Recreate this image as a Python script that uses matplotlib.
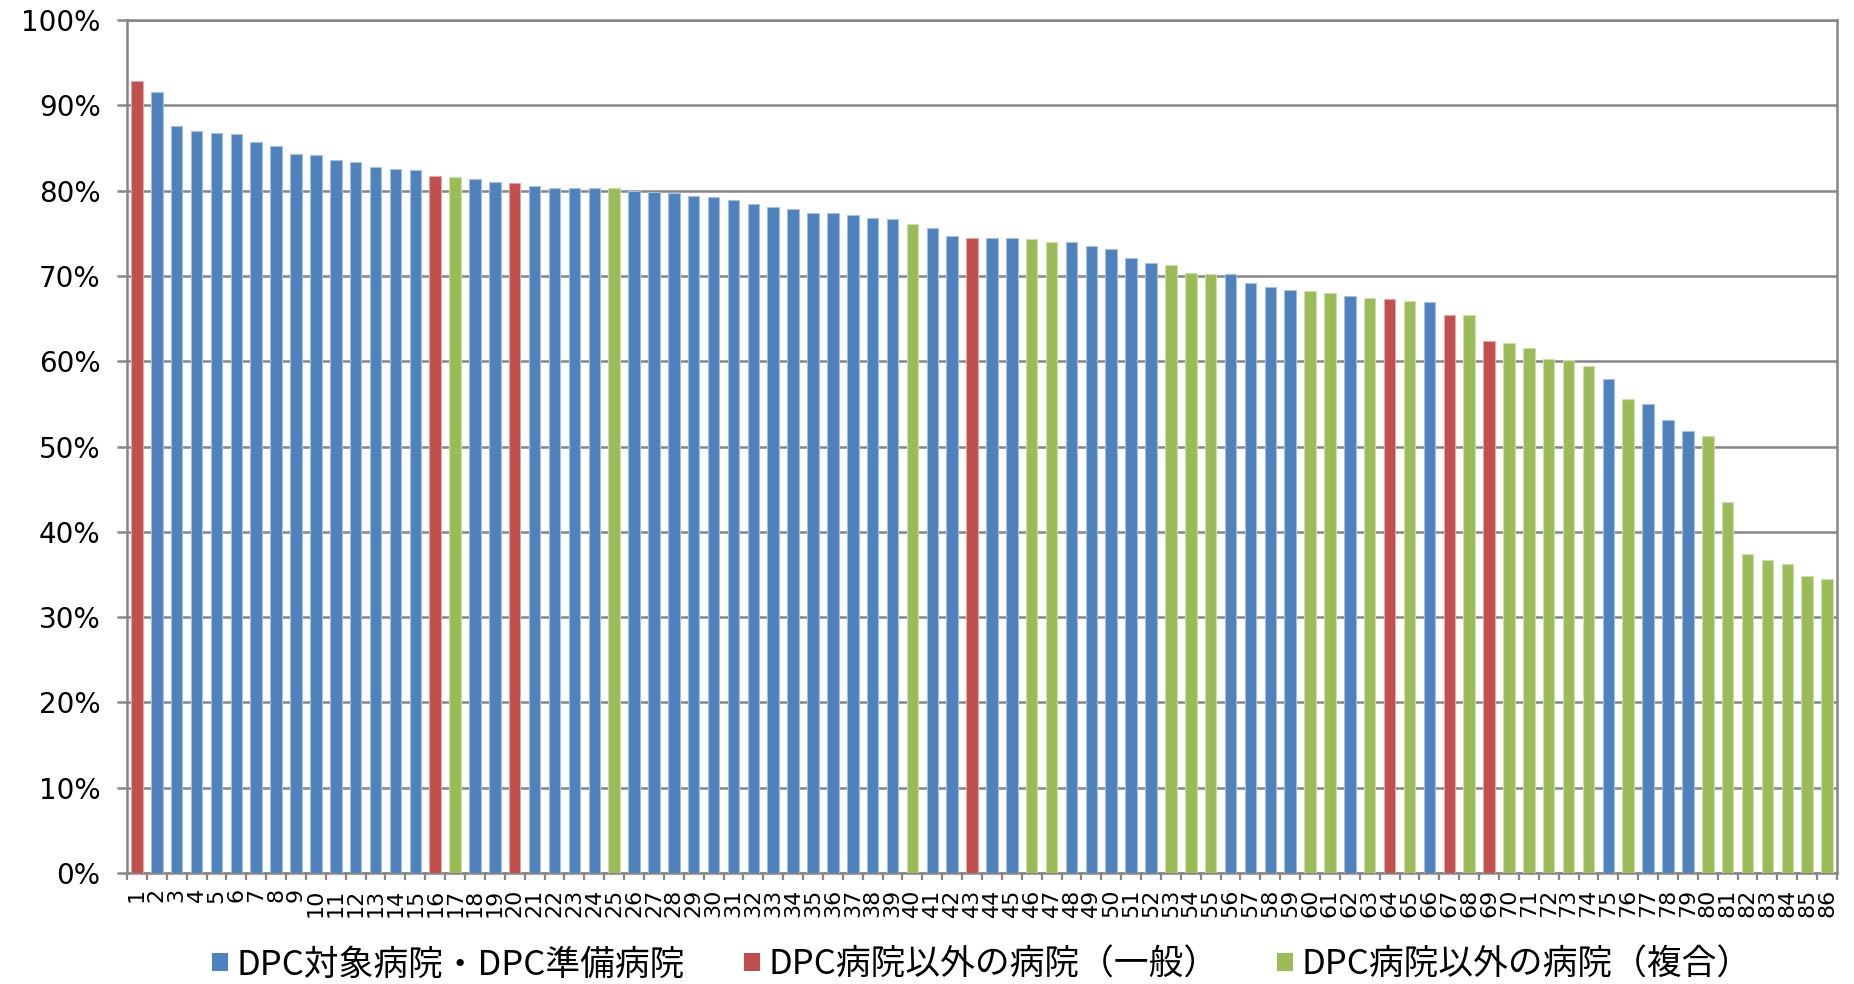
import matplotlib
matplotlib.use("Agg")
import matplotlib.pyplot as plt
from matplotlib.patches import Patch
from matplotlib.ticker import FuncFormatter, FixedLocator

# ---- data ----
hospital_ids = list(range(1, 87))
rates = [
    92.9, 91.55, 87.6, 86.95, 86.75, 86.65, 85.7, 85.25, 84.3, 84.2,
    83.6, 83.35, 82.75, 82.55, 82.45, 81.7, 81.6, 81.35, 80.95, 80.9,
    80.55, 80.35, 80.3, 80.28, 80.28, 79.97, 79.8, 79.73, 79.37, 79.26,
    78.9, 78.4, 78.08, 77.8, 77.4, 77.35, 77.15, 76.76, 76.64, 76.1,
    75.6, 74.73, 74.5, 74.45, 74.45, 74.29, 73.94, 73.94, 73.55, 73.2,
    72.07, 71.49, 71.25, 70.31, 70.27, 70.2, 69.15, 68.68, 68.4, 68.2,
    67.97, 67.6, 67.46, 67.27, 67.04, 66.9, 65.46, 65.43, 62.38, 62.1,
    61.52, 60.23, 60.1, 59.4, 57.9, 55.58, 55.03, 53.08, 51.87, 51.28,
    43.5, 37.4, 36.7, 36.23, 34.86, 34.5,
]
# B = DPC対象病院・DPC準備病院, R = DPC病院以外の病院（一般）, G = DPC病院以外の病院（複合）
groups = [
    "R", "B", "B", "B", "B", "B", "B", "B", "B", "B",   # 1-10
    "B", "B", "B", "B", "B", "R", "G", "B", "B", "R",   # 11-20
    "B", "B", "B", "B", "G", "B", "B", "B", "B", "B",   # 21-30
    "B", "B", "B", "B", "B", "B", "B", "B", "B", "G",   # 31-40
    "B", "B", "R", "B", "B", "G", "G", "B", "B", "B",   # 41-50
    "B", "B", "G", "G", "G", "B", "B", "B", "B", "G",   # 51-60
    "G", "B", "G", "R", "G", "B", "R", "G", "R", "G",   # 61-70
    "G", "G", "G", "G", "B", "G", "B", "B", "B", "G",   # 71-80
    "G", "G", "G", "G", "G", "G",                       # 81-86
]
series_codes = ["B", "R", "G"]
series_names = ["DPC対象病院・DPC準備病院", "DPC病院以外の病院（一般）", "DPC病院以外の病院（複合）"]
series_colors = ["#4F81BD", "#C0504D", "#9BBB59"]
series_edges = ["#A7C0DE", "#E0A8A6", "#CDDDAC"]
y_ticks = [0, 10, 20, 30, 40, 50, 60, 70, 80, 90, 100]

grid_color = "#868686"

fig = plt.figure(figsize=(18.54, 9.84), dpi=100)
ax = fig.add_axes([127 / 1854, 1 - 873 / 984, (1837 - 127) / 1854, (873 - 20) / 984])

for code, name, col, ec in zip(series_codes, series_names, series_colors, series_edges):
    xs = [h for h, g in zip(hospital_ids, groups) if g == code]
    ys = [v for v, g in zip(rates, groups) if g == code]
    ax.bar(xs, ys, width=0.58, color=col, edgecolor=ec, linewidth=0.8, zorder=3, label=name)

ax.set_xlim(0.5, len(hospital_ids) + 0.5)
ax.set_ylim(0, 100)
ax.set_yticks(y_ticks)
ax.yaxis.set_major_formatter(FuncFormatter(lambda v, p: f"{v:.0f}%"))
ax.yaxis.grid(True, color=grid_color, linewidth=1.8, zorder=0)
ax.set_axisbelow(True)

ax.set_xticks(hospital_ids)
ax.set_xticklabels([str(h) for h in hospital_ids], rotation=90, va="top", ha="center",
                   fontsize=16, family="DejaVu Sans")
ax.xaxis.set_minor_locator(FixedLocator([i + 0.5 for i in range(0, len(hospital_ids) + 1)]))
ax.tick_params(axis="x", which="major", length=0, pad=11)
ax.tick_params(axis="x", which="minor", length=5, width=1.6, color=grid_color, direction="out")
ax.tick_params(axis="y", which="major", length=7, width=1.8, color=grid_color, pad=12,
               labelsize=20)

for sp in ax.spines.values():
    sp.set_color(grid_color)
    sp.set_linewidth(1.8)

handles = [Patch(facecolor=c, edgecolor="none") for c in series_colors]
fig.legend(handles, series_names, loc="center", bbox_to_anchor=(982 / 1854, 1 - 965 / 984),
           ncol=3, frameon=False, handlelength=0.45, handleheight=0.45, handletextpad=0.25,
           columnspacing=1.7, prop={"family": ["Noto Sans CJK JP", "DejaVu Sans"], "size": 25})

fig.savefig("out.png", dpi=100)
